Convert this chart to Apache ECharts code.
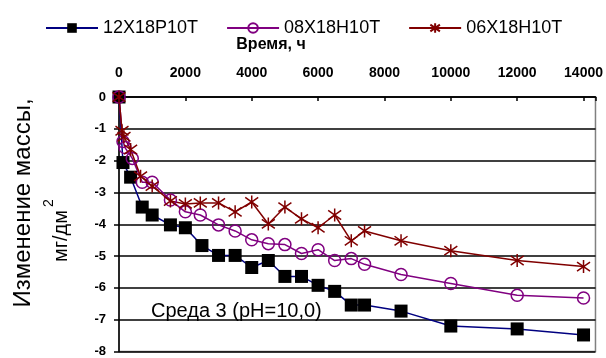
<!DOCTYPE html>
<html><head><meta charset="utf-8">
<script src="https://cdn.jsdelivr.net/npm/echarts@6/dist/echarts.min.js"></script>
<style>html,body{margin:0;padding:0;background:#fff}#c{width:606px;height:358px}</style>
</head><body><div id="c"></div>
<script>
// Series names
const seriesNames = ['12X18P10T', '08X18H10T', '06X18H10T'];

// 12X18P10T
const hours1 = [0, 120, 350, 700, 1000, 1550, 2000, 2500, 3000, 3500, 4000, 4500, 5000, 5500, 6000, 6500, 7000, 7400, 8500, 10000, 12000, 14000];
const mass1  = [0, -2.06, -2.52, -3.46, -3.71, -4.02, -4.11, -4.67, -4.98, -4.98, -5.36, -5.14, -5.64, -5.64, -5.92, -6.11, -6.54, -6.54, -6.73, -7.20, -7.29, -7.48];

// 08X18H10T
const hours2 = [0, 120, 180, 400, 700, 1000, 1550, 2000, 2450, 3000, 3500, 4000, 4500, 5000, 5500, 6000, 6500, 7000, 7400, 8500, 10000, 12000, 14000];
const mass2  = [0, -1.40, -1.59, -1.93, -2.68, -2.68, -3.24, -3.61, -3.71, -4.02, -4.21, -4.49, -4.61, -4.64, -4.92, -4.80, -5.14, -5.08, -5.26, -5.58, -5.86, -6.23, -6.32];

// 06X18H10T
const hours3 = [0, 90, 150, 350, 650, 1000, 1550, 2000, 2450, 3000, 3500, 4000, 4500, 5000, 5500, 6000, 6500, 7000, 7400, 8500, 10000, 12000, 14000];
const mass3  = [0, -1.06, -1.25, -1.65, -2.49, -2.80, -3.27, -3.36, -3.33, -3.33, -3.61, -3.30, -3.99, -3.46, -3.83, -4.11, -3.71, -4.52, -4.21, -4.52, -4.83, -5.14, -5.33];

// Axis settings
const xMin = 0, xMax = 14360, xStep = 2000;
const yMin = -8, yMax = 0, yStep = 1;

const xTitle = 'Время, ч';
const yTitle1 = 'Изменение массы,';
const yTitle2 = 'мг/дм';
const yTitleSup = '2';
const note = 'Среда 3 (pH=10,0)';

const FONT = '"Liberation Sans", Arial, sans-serif';
const zip = (a, b) => a.map((v, i) => [v, b[i]]);

const chart = echarts.init(document.getElementById('c'), null, {renderer: 'canvas'});
chart.setOption({
  animation: false,
  backgroundColor: '#fff',
  textStyle: {fontFamily: FONT},
  legend: {
    left: 40, top: 14,
    itemWidth: 52, itemHeight: 12, itemGap: 28,
    textStyle: {fontFamily: FONT, fontSize: 18, color: '#000'},
    data: seriesNames
  },
  grid: {left: 119, right: 8, top: 97, bottom: 4, show: true, borderColor: '#808080', borderWidth: 1.5, backgroundColor: '#fff'},
  xAxis: {
    type: 'value', position: 'top', min: xMin, max: xMax, interval: xStep,
    axisLine: {show: true, lineStyle: {color: '#000', width: 1.5}},
    axisTick: {show: true, inside: true, length: 4, lineStyle: {color: '#000', width: 1.5}},
    axisLabel: {fontFamily: FONT, fontSize: 14, fontWeight: 'bold', color: '#000', margin: 17,
      formatter: v => (v % xStep === 0 ? String(v) : '')},
    splitLine: {show: false}
  },
  yAxis: {
    type: 'value', min: yMin, max: yMax, interval: yStep,
    axisLine: {show: true, onZero: false, lineStyle: {color: '#000', width: 1.5}},
    axisTick: {show: true, inside: false, length: 5, lineStyle: {color: '#000', width: 1.5}},
    axisLabel: {fontFamily: FONT, fontSize: 13, fontWeight: 'bold', color: '#000', margin: 13},
    splitLine: {show: true, lineStyle: {color: '#000', width: 1.5}}
  },
  graphic: [
    {type: 'text', x: 271, y: 45, style: {text: xTitle, font: 'bold 16px ' + FONT, fill: '#000', align: 'center', verticalAlign: 'middle'}},
    {type: 'text', x: 23, y: 203, rotation: Math.PI / 2, style: {text: yTitle1, font: '24px ' + FONT, fill: '#000', align: 'center', verticalAlign: 'middle'}},
    {type: 'text', x: 61, y: 236, rotation: Math.PI / 2, style: {text: yTitle2, font: '20px ' + FONT, fill: '#000', align: 'center', verticalAlign: 'middle'}},
    {type: 'text', x: 49, y: 203, rotation: Math.PI / 2, style: {text: yTitleSup, font: '14px ' + FONT, fill: '#000', align: 'center', verticalAlign: 'middle'}},
    {type: 'text', x: 151, y: 311, style: {text: note, font: '20px ' + FONT, fill: '#000', align: 'left', verticalAlign: 'middle'}}
  ],
  series: [
    {
      name: seriesNames[0], type: 'line', data: zip(hours1, mass1),
      symbol: 'rect', symbolSize: 13,
      itemStyle: {color: '#000'},
      lineStyle: {color: '#000080', width: 1.5}
    },
    {
      name: seriesNames[1], type: 'line', data: zip(hours2, mass2),
      symbol: 'circle', symbolSize: 12,
      itemStyle: {color: 'rgba(255,255,255,0)', borderColor: '#800080', borderWidth: 1.5},
      lineStyle: {color: '#800080', width: 1.5}
    },
    {
      name: seriesNames[2], type: 'line', data: zip(hours3, mass3),
      symbol: 'path://M5 0L5 10M0 1.5L10 8.5M0 8.5L10 1.5', symbolSize: 13,
      itemStyle: {color: '#800000', borderColor: '#800000', borderWidth: 1.5},
      lineStyle: {color: '#800000', width: 1.5}
    }
  ]
});
</script>
</body></html>
